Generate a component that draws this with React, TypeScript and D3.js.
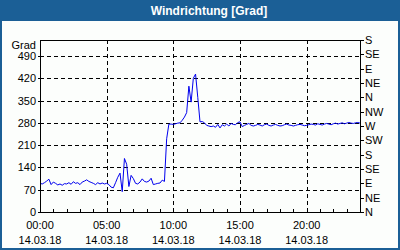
import React from "react";
import * as d3 from "d3";

const title = "Windrichtung [Grad]";
const yUnit = "Grad";
const leftTicks = [0, 70, 140, 210, 280, 350, 420, 490];
const rightTickValues = [0, 45, 90, 135, 180, 225, 270, 315, 360, 405, 450, 495, 540];
const rightTickLabels = ["N", "NE", "E", "SE", "S", "SW", "W", "NW", "N", "NE", "E", "SE", "S"];
const majorHours = [0, 5, 10, 15, 20];
const majorTimeLabels = ["00:00", "05:00", "10:00", "15:00", "20:00"];
const dateLabel = "14.03.18";
const stepMinutes = 10;
const values = [
  90, 88, 92, 97, 103, 86, 94, 90, 85, 88, 84, 89, 88, 92, 87, 95, 90, 92, 86, 94,
  97, 101, 96, 93, 90, 86, 92, 88, 91, 88, 90,
  86, 78, 76, 92, 109, 122, 64, 168, 150, 80, 115, 105, 90, 88, 94, 104, 96, 94, 97,
  106, 86, 88, 90, 91, 100, 96, 230, 276, 276, 275, 277, 279, 280,
  288, 298, 312, 395, 345, 420, 433, 360, 283, 284, 280, 272, 270, 268, 270, 266,
  275, 264, 274, 270, 276, 270, 278, 275, 274, 281, 283, 268, 272, 275, 278, 272, 270,
  272, 275, 273, 270, 274, 276, 272, 270, 273, 275, 272, 270, 271, 274, 276, 273,
  272, 270, 272, 274, 275, 273, 271, 272, 274, 276, 275, 273, 277, 275, 273, 276,
  278, 276, 274, 277, 279, 276, 278, 280, 277, 279, 281, 279, 278, 280, 281, 279,
];

const W = 400;
const H = 250;
const BLUE = "#1b5f96";
const FONT = "'Liberation Sans', Arial, sans-serif";

export default function App() {
  const left = 40, right = 360, top = 40, bottom = 212;
  const x = d3.scaleLinear().domain([0, 24]).range([left, right]);
  const y = d3.scaleLinear().domain([0, 540]).range([bottom, top]);
  const pts: [number, number][] = values.map((v, i) => [(i * stepMinutes) / 60, v]);
  const line = d3
    .line<[number, number]>()
    .x((d) => x(d[0]))
    .y((d) => y(d[1]));
  const hours = d3.range(0, 25);
  const px = (v: number) => Math.round(v) + 0.5;

  return (
    <svg
      width={W}
      height={H}
      style={{ position: "absolute", left: 0, top: 0, display: "block" }}
      shapeRendering="crispEdges"
    >
      <rect x={0} y={0} width={W} height={H} fill={BLUE} />
      <rect x={2} y={21} width={W - 4} height={H - 23} fill="#fcfefc" />
      <text
        x={209}
        y={15}
        fill="#fff"
        fontFamily={FONT}
        fontWeight="bold"
        fontSize={12}
        textAnchor="middle"
      >
        {title}
      </text>

      {/* grid */}
      {leftTicks.filter((v) => v > 0).map((v) => (
        <line
          key={"hg" + v}
          x1={left}
          x2={right}
          y1={px(y(v))}
          y2={px(y(v))}
          stroke="#000"
          strokeDasharray="4,3"
        />
      ))}
      {majorHours.filter((h) => h > 0).map((h) => (
        <line
          key={"vg" + h}
          x1={px(x(h))}
          x2={px(x(h))}
          y1={top}
          y2={bottom}
          stroke="#000"
          strokeDasharray="4,3"
        />
      ))}

      {/* data */}
      <path d={line(pts) || ""} fill="none" stroke="#0000ee" strokeWidth={1} shapeRendering="auto" />

      {/* frame */}
      <rect x={left + 0.5} y={top + 0.5} width={right - left} height={bottom - top} fill="none" stroke="#000" />

      {/* left ticks */}
      {leftTicks.map((v) => (
        <g key={"lt" + v}>
          <line x1={left - 2} x2={left} y1={px(y(v))} y2={px(y(v))} stroke="#000" />
          <text
            x={36}
            y={y(v) + 4}
            fontFamily={FONT}
            fontSize={11}
            textAnchor="end"
            fill="#000"
          >
            {v}
          </text>
        </g>
      ))}
      <text x={36} y={48.5} fontFamily={FONT} fontSize={11} textAnchor="end" fill="#000">
        {yUnit}
      </text>

      {/* right ticks */}
      {rightTickValues.map((v, i) => (
        <g key={"rt" + v}>
          <line x1={right} x2={right + 4} y1={px(y(v))} y2={px(y(v))} stroke="#000" />
          <text x={365} y={y(v) + 4} fontFamily={FONT} fontSize={11} fill="#000">
            {rightTickLabels[i]}
          </text>
        </g>
      ))}

      {/* bottom ticks */}
      {hours.map((h) => (
        <line
          key={"bt" + h}
          x1={px(x(h))}
          x2={px(x(h))}
          y1={bottom - 3}
          y2={bottom}
          stroke="#000"
        />
      ))}
      {majorHours.map((h, i) => (
        <g key={"bl" + h}>
          <text x={x(h)} y={229} fontFamily={FONT} fontSize={11} textAnchor="middle" fill="#000">
            {majorTimeLabels[i]}
          </text>
          <text x={x(h)} y={244} fontFamily={FONT} fontSize={11} textAnchor="middle" fill="#000">
            {dateLabel}
          </text>
        </g>
      ))}
    </svg>
  );
}
